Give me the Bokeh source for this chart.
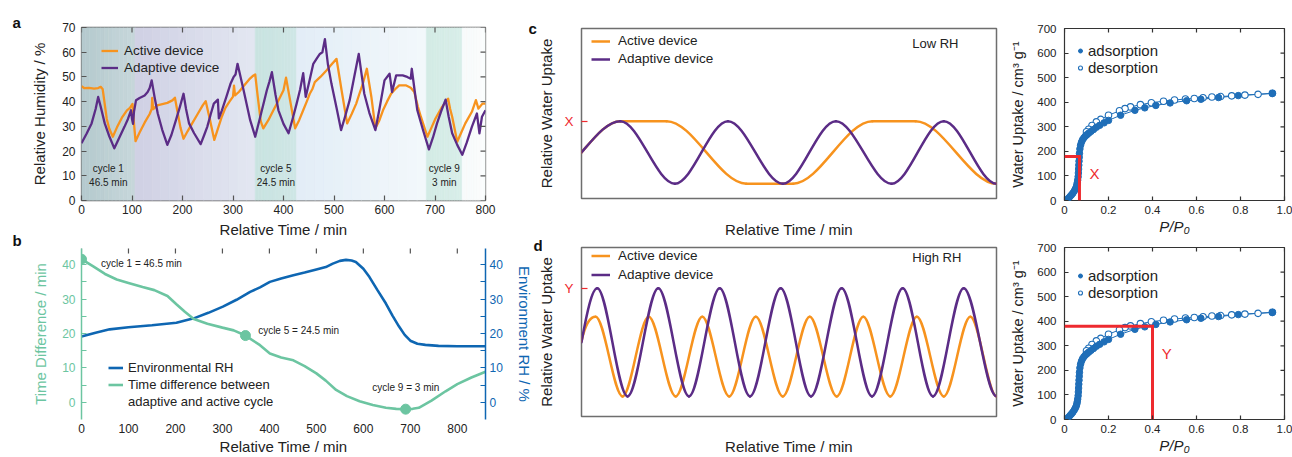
import math
from bokeh.plotting import figure
from bokeh.models import Range1d, LinearAxis, FixedTicker, Legend, LegendItem
from bokeh.layouts import row, column
from bokeh.embed import file_html
from bokeh.resources import INLINE
from bokeh.core.properties import value

FONT = "Liberation Sans"
ORANGE = "#F7931E"
PURPLE = "#5B2C86"
GREEN = "#6CC5A1"
BLUE = "#0E66B2"
ISO_BLUE = "#1F6EB8"
RED = "#EE2A2F"

# ---------------- panel a : measured RH ----------------
a_time_active = [0,5,15,25,33,38,42,46,50,55,62,70,80,90,96,101,104,107,115,125,135,139,140,142,150,160,170,180,185,190,196,202,210,220,230,240,246,254,263,270,278,285,293,300,302,304,312,322,332,340,344,349,355,360,370,380,390,400,405,413,423,431,439,446,452,457,462,473,485,495,505,510,515,526,535,544,550,557,565,570,574,582,590,597,605,613,621,629,642,652,659,666,672,685,693,701,714,726,730,734,744,752,760,773,781,786,794,800]
a_rh_active = [46.2,45.5,45.6,45.3,45.5,46.0,45.0,39.0,33.0,29.0,25.8,29.5,33.5,36.5,37.5,39.1,31.0,24.0,27.5,31.5,35.0,37.0,41.5,37.0,38.5,39.0,39.5,40.5,41.6,36.0,29.5,25.0,28.0,31.5,35.0,38.5,40.2,33.0,24.5,29.0,34.0,37.5,40.0,42.0,46.5,42.5,44.0,46.5,49.0,50.5,51.0,42.0,32.0,29.2,32.5,36.5,40.5,44.6,49.7,40.6,29.2,32.5,36.5,40.0,43.2,45.0,47.9,50.0,52.6,55.0,57.3,51.0,44.6,31.2,35.0,39.2,43.0,47.2,53.3,47.0,41.9,29.2,32.5,36.5,40.0,43.2,45.0,46.6,46.6,45.6,43.9,38.0,33.9,25.8,29.5,33.2,37.9,41.2,37.0,33.9,23.8,27.5,31.2,35.9,40.6,37.2,39.2,39.2]
a_time_adaptive = [0,10,20,28,33,38,46,55,65,75,85,92,98,100,102,104,108,115,125,131,135,139,145,151,160,170,178,187,195,202,207,213,223,236,243,249,256,262,270,272,278,287,295,301,305,309,315,321,334,344,354,362,367,372,377,384,390,400,410,418,426,433,439,444,452,459,466,472,477,482,488,495,505,514,522,531,540,549,555,560,570,582,590,600,610,615,623,636,645,652,654,660,665,677,688,696,704,712,721,727,734,744,754,763,773,783,788,793,800]
a_rh_adaptive = [23.2,27.0,31.2,37.0,41.9,38.0,31.2,26.0,21.1,25.5,29.8,33.0,36.5,33.0,31.0,36.0,40.6,41.5,42.5,43.9,45.5,48.6,41.5,35.2,28.5,22.5,26.5,32.5,38.0,43.2,37.0,31.2,27.2,22.8,26.5,29.8,35.0,39.2,40.8,33.2,36.5,42.0,47.2,49.9,51.0,55.3,50.0,44.6,32.5,25.8,33.9,40.5,44.6,48.0,51.9,43.0,36.5,31.0,27.2,33.0,39.2,45.0,51.5,41.9,49.0,55.3,57.5,59.3,60.0,65.3,55.0,47.2,37.5,28.5,34.0,40.6,50.0,59.3,50.5,43.2,35.5,28.5,37.0,48.6,51.3,43.9,50.6,50.6,50.0,49.3,53.3,44.0,36.5,28.0,20.7,25.5,31.2,36.0,40.8,34.0,27.2,22.5,18.5,23.5,29.8,35.2,27.2,33.9,36.5]
a_band_start = [0, 106, 344, 426, 683, 754]
a_band_end = [106, 344, 426, 683, 754, 800]
a_cycle_bands = [0, 2, 4]
a_cycle_labels = ["cycle 1\n46.5 min", "cycle 5\n24.5 min", "cycle 9\n3 min"]
A_X_TICKS = [0, 100, 200, 300, 400, 500, 600, 700, 800]
A_Y_TICKS = [0, 10, 20, 30, 40, 50, 60, 70]

# ---------------- panel b ----------------
b_time_td = [0,25,50,75,100,130,155,183,202,220,239,268,300,324,349,380,401,425,451,475,500,520,542,565,592,620,648,670,690,705,718,745,775,800,830,860]
b_td = [41.6,39.5,37.3,35.7,34.7,33.5,32.6,30.9,28.5,26.3,24.2,22.8,21.7,20.9,19.4,16.6,14.2,13.0,12.2,10.5,8.4,6.3,3.6,1.8,0.3,-0.8,-1.6,-1.9,-2.0,-1.9,-1.6,0.5,3.2,5.3,7.2,8.9]
b_time_rh = [0,30,60,100,150,202,239,270,301,330,359,380,401,425,451,475,500,520,535,550,563,575,584,600,613,630,648,662,676,688,700,715,732,760,800,830,860]
b_rh = [19.1,20.2,21.2,21.8,22.4,23.1,24.4,26.0,27.8,29.8,32.1,33.4,35.0,36.0,36.9,37.7,38.6,39.3,40.3,41.1,41.4,41.2,40.8,38.8,36.4,32.6,28.7,25.2,22.0,19.6,17.9,17.0,16.7,16.4,16.3,16.3,16.3]
b_marker_t = [0, 349, 690]
b_marker_td = [41.6, 19.4, -2.0]
b_notes = ["cycle 1 = 46.5 min", "cycle 5 = 24.5 min", "cycle 9 = 3 min"]
B_X_TICKS = [0, 100, 200, 300, 400, 500, 600, 700, 800]
B_Y_TICKS = [0, 10, 20, 30, 40]
B_Y_MINOR = [5, 15, 25, 35]

# ---------------- panels c, d (schematic key points: time, level, tangent) ----------------
c_active_t = [0, 9.35, 20.5, 39.7, 51.0, 70.1, 80.5, 100]
c_active_v = [27.1, 45.5, 45.5, 8.7, 8.7, 45.5, 45.5, 8.7]
c_active_slope = [2.8, 0, 0, 0, 0, 0, 0, 0]
c_adaptive_t = [0, 9.35, 22.5, 35.3, 48.5, 61.3, 74.7, 87.3, 100]
c_adaptive_v = [27.1, 45.5, 8.7, 45.5, 8.7, 45.5, 8.7, 45.5, 8.7]
c_adaptive_slope = [2.8, 0, 0, 0, 0, 0, 0, 0, 0]
d_active_t = [0, 3.4, 9.9, 16.2, 22.7, 29.1, 35.6, 42.0, 48.5, 55.0, 61.5, 67.9, 74.4, 80.8, 87.3, 93.7, 100]
d_active_v = [44.6, 59.0, 11.9, 59.0, 11.9, 59.0, 11.9, 59.0, 11.9, 59.0, 11.9, 59.0, 11.9, 59.0, 11.9, 59.0, 11.9]
d_active_slope = [10.6, 0, 0, 0, 0, 0, 0, 0, 0, 0, 0, 0, 0, 0, 0, 0, 0]
d_adaptive_t = [0, 3.8, 11.1, 18.5, 25.9, 33.3, 40.6, 48.0, 55.3, 62.7, 70.0, 77.4, 84.7, 92.1, 100]
d_adaptive_v = [43.9, 75.9, 11.9, 75.9, 11.9, 75.9, 11.9, 75.9, 11.9, 75.9, 11.9, 75.9, 11.9, 75.9, 11.9]
d_adaptive_slope = [13.7, 0, 0, 0, 0, 0, 0, 0, 0, 0, 0, 0, 0, 0, 0]

# ---------------- isotherm ----------------
iso_ads_p = [0.010,0.018,0.025,0.032,0.038,0.044,0.049,0.053,0.056,0.058,0.060,0.062,0.063,0.064,0.065,0.066,0.067,0.068,0.070,0.073,0.077,0.082,0.088,0.095,0.102,0.110,0.120,0.132,0.145,0.160,0.180,0.200,0.255,0.320,0.365,0.415,0.480,0.555,0.620,0.700,0.790,0.945]
iso_ads_q = [3,9,16,23,30,38,46,54,63,72,83,97,112,128,144,160,176,192,210,225,237,247,255,262,268,274,281,289,298,306,316,326,347,367,377,387,397,406,412,419,427,436]
iso_des_p = [0.945,0.880,0.820,0.760,0.710,0.670,0.630,0.590,0.550,0.500,0.450,0.395,0.345,0.300,0.275,0.250,0.200,0.165,0.145,0.125,0.110,0.100]
iso_des_q = [436,432,429,426,423,421,418,415,413,409,404,398,390,381,374,365,347,330,320,305,290,280]
iso_guides_p = [0.068, 0.40]
iso_guides_q = [179, 380]
iso_guide_labels = ["X", "Y"]
ISO_X_TICKS = [0, 0.2, 0.4, 0.6, 0.8, 1.0]
ISO_Y_TICKS = [0, 100, 200, 300, 400, 500, 600, 700]

PANEL_LETTERS = ["a", "b", "c", "d"]


def mix(c0, c1, f):
    a = [int(c0[i:i + 2], 16) for i in (1, 3, 5)]
    b = [int(c1[i:i + 2], 16) for i in (1, 3, 5)]
    return "#%02x%02x%02x" % tuple(int(round(x + (y - x) * f)) for x, y in zip(a, b))


def fig(w, h, xr, yr, l, r, t, b, transparent=False):
    p = figure(width=w, height=h, x_range=Range1d(*xr), y_range=Range1d(*yr),
               output_backend="svg", toolbar_location=None,
               min_border_left=l, min_border_right=r, min_border_top=t, min_border_bottom=b)
    p.grid.visible = False
    p.background_fill_color = "white"
    p.border_fill_color = None if transparent else "white"
    return p


def style(ax, ticks, color="#222222", tick_color="#555555", tick_len=5,
          label_size="12px", standoff=5, line_color=None, minor=None):
    ax.ticker = FixedTicker(ticks=list(ticks), minor_ticks=list(minor or []))
    ax.axis_line_color = line_color
    ax.axis_line_width = 1.5
    ax.major_tick_in = tick_len
    ax.major_tick_out = 0
    ax.minor_tick_in = tick_len if minor else 0
    ax.minor_tick_out = 0
    ax.major_tick_line_color = tick_color
    ax.minor_tick_line_color = tick_color
    ax.major_tick_line_width = 1.2
    ax.minor_tick_line_width = 1.2
    ax.major_label_text_font = FONT
    ax.major_label_text_font_size = label_size
    ax.major_label_text_color = color
    ax.major_label_standoff = standoff
    ax.axis_label_text_font = FONT
    ax.axis_label_text_font_size = "15px"
    ax.axis_label_text_font_style = "normal"
    ax.axis_label_text_color = color


def mirror_ticks(p, xticks=None, yticks=None, color="#555555", length=5, width=1.2):
    # inward tick marks on the top / right frame edges (outer half is clipped by the frame)
    if xticks:
        p.scatter(x=list(xticks), y=[p.y_range.end] * len(xticks), marker="dash", angle=math.pi / 2,
                  size=2 * length, line_color=color, line_width=width)
    if yticks:
        p.scatter(x=[p.x_range.end] * len(yticks), y=list(yticks), marker="dash",
                  size=2 * length, line_color=color, line_width=width)


def legend(p, items, loc, gw, gh, standoff, size):
    lg = Legend(items=items, location=loc, glyph_width=gw, glyph_height=gh, label_height=gh,
                label_standoff=standoff, padding=0, spacing=0, margin=0,
                label_text_font=FONT, label_text_font_size=size, label_text_color="#222222",
                background_fill_alpha=0, border_line_color=None)
    p.add_layout(lg)


def letter_fig(x0, w, letters, xs, ys, margin=None):
    p = figure(width=w, height=457, x_range=Range1d(x0, x0 + w), y_range=Range1d(457, 0),
               output_backend="svg", toolbar_location=None, x_axis_location=None,
               y_axis_location=None, min_border=0)
    p.grid.visible = False
    p.outline_line_color = None
    p.background_fill_color = None
    p.border_fill_color = None
    if margin is not None:
        p.margin = margin
    p.text(x=xs, y=ys, text=letters, text_font=value(FONT), text_font_size="15px",
           text_font_style="bold", text_baseline="alphabetic", text_align="left", text_color="#111111")
    return p


def bez(t, v, m):
    x0, x1, y0, y1 = t[:-1], t[1:], v[:-1], v[1:]
    dx = [b - a for a, b in zip(x0, x1)]
    return dict(x0=x0, y0=y0, x1=x1, y1=y1,
                cx0=[a + d / 3 for a, d in zip(x0, dx)],
                cy0=[y + s * d / 3 for y, s, d in zip(y0, m[:-1], dx)],
                cx1=[b - d / 3 for b, d in zip(x1, dx)],
                cy1=[y - s * d / 3 for y, s, d in zip(y1, m[1:], dx)])


# ================= Figure a =================
pa = fig(507, 240, (0, 800), (0, 70), 52, 48, 27, 39)
pa.outline_line_color = "#666666"
pa.outline_line_width = 1.3
band_left = ["#b4c9cd", "#cfd0e3", "#c9e3e1", "#e2edf7", "#d3ebe5", "#f7fafb"]
band_right = ["#c7d7db", "#e3e7f2", "#cfe6e5", "#f3f8fb", "#d8eee9", "#fbfdfd"]
for i in range(len(a_band_start)):
    n = 14
    s, e = a_band_start[i], a_band_end[i]
    edges = [s + (e - s) * k / n for k in range(n + 1)]
    cols = [mix(band_left[i], band_right[i], (k + 0.5) / n) for k in range(n)]
    pa.quad(left=edges[:-1], right=edges[1:], bottom=pa.y_range.start, top=pa.y_range.end,
            fill_color=cols, line_color=cols, line_width=0.6)
ra = pa.line(a_time_active, a_rh_active, line_color=ORANGE, line_width=2.3, line_join="round")
rp = pa.line(a_time_adaptive, a_rh_adaptive, line_color=PURPLE, line_width=2.3, line_join="round")
centers = [(a_band_start[i] + a_band_end[i]) / 2 for i in a_cycle_bands]
pa.text(x=centers, y=[10] * len(centers), text=a_cycle_labels, text_font=value(FONT),
        text_font_size="10px", text_align="center", text_baseline="middle",
        text_line_height=1.25, text_color="#222222")
style(pa.below[0], A_X_TICKS, standoff=4)
pa.below[0].axis_label = "Relative Time / min"
pa.below[0].axis_label_standoff = 4
style(pa.left[0], A_Y_TICKS, standoff=6)
pa.left[0].axis_label = "Relative Humidity / %"
pa.left[0].axis_label_standoff = 11
mirror_ticks(pa, A_X_TICKS, A_Y_TICKS)
legend(pa, [LegendItem(label="Active device", renderers=[ra]),
            LegendItem(label="Adaptive device", renderers=[rp])], (20, 123.8), 17, 17, 6, "13.5px")

# ================= Figure b =================
pb = fig(507, 217, (0, 860), (-5, 44.7), 52, 48, 8, 37)
pb.extra_y_ranges = {"rh": Range1d(-5, 44.7)}
pb.outline_line_color = None
style(pb.left[0], B_Y_TICKS, color=GREEN, tick_color=GREEN, line_color=GREEN, minor=B_Y_MINOR, standoff=6)
pb.left[0].axis_label = "Time Difference / min"
pb.left[0].axis_label_standoff = 10
axr = LinearAxis(y_range_name="rh")
style(axr, B_Y_TICKS, color=BLUE, tick_color=BLUE, line_color=BLUE, minor=B_Y_MINOR, standoff=4)
axr.axis_label = "Environment RH / %"
axr.axis_label_standoff = 10
pb.add_layout(axr, "right")
style(pb.below[0], B_X_TICKS, tick_len=0, standoff=4)
pb.below[0].axis_label = "Relative Time / min"
pb.below[0].axis_label_standoff = 2
mirror_ticks(pb, B_X_TICKS, None)
rb = pb.line(b_time_rh, b_rh, y_range_name="rh", line_color=BLUE, line_width=2.6)
rg = pb.line(b_time_td, b_td, line_color=GREEN, line_width=2.6)
pb.scatter(b_marker_t, b_marker_td, size=10, color=GREEN)
rinv = pb.line(b_time_td[:1], b_td[:1], line_alpha=0)
pb.text(x=[41.6, 376, 619], y=[40.4, 21.0, 4.3], text=b_notes, text_font=value(FONT),
        text_font_size="10px", text_align="left", text_baseline="middle", text_color="#222222")
legend(pb, [LegendItem(label="Environmental RH", renderers=[rb]),
            LegendItem(label="Time difference between", renderers=[rg]),
            LegendItem(label="adaptive and active cycle", renderers=[rinv])], (27, 8.7), 15, 17, 5, "13px")

# ================= Figures c, d =================
def schematic(h, top, bottom, right, act, ada, level, level_label, note, note_xy, leg_loc, leg_h, xl_standoff):
    p = fig(476, h, (0, 100), (0, 100), 53, right, top, bottom, transparent=True)
    p.outline_line_color = "#6E6E6E"
    p.outline_line_width = 1.5
    p.bezier(**bez(*act), line_color=ORANGE, line_width=2.5, line_cap="round")
    p.bezier(**bez(*ada), line_color=PURPLE, line_width=2.5, line_cap="round")
    lo = p.line(act[0][:1], act[1][:1], line_color=ORANGE, line_width=2.5)
    lp = p.line(ada[0][:1], ada[1][:1], line_color=PURPLE, line_width=2.5)
    style(p.left[0], [level], color=RED, tick_color=RED, tick_len=6, label_size="13.5px", standoff=8)
    p.left[0].major_label_overrides = {level: level_label}
    p.left[0].axis_label = "Relative Water Uptake"
    p.left[0].axis_label_text_color = "#222222"
    p.left[0].axis_label_standoff = 6
    style(p.below[0], [], standoff=0)
    p.below[0].axis_label = "Relative Time / min"
    p.below[0].axis_label_standoff = xl_standoff
    p.text(x=[note_xy[0]], y=[note_xy[1]], text=[note], text_font=value(FONT), text_font_size="13px",
           text_align="left", text_baseline="middle", text_color="#222222")
    legend(p, [LegendItem(label="Active device", renderers=[lo]),
               LegendItem(label="Adaptive device", renderers=[lp])], leg_loc, 19, leg_h, 8, "13.5px")
    return p

pc = schematic(240, 28, 40, 7, (c_active_t, c_active_v, c_active_slope),
               (c_adaptive_t, c_adaptive_v, c_adaptive_slope), max(c_active_v), "X",
               "Low RH", (79.7, 90.9), (10, 130.5), 18, 22)
pd = schematic(217, 7, 38, 8, (d_active_t, d_active_v, d_active_slope),
               (d_adaptive_t, d_adaptive_v, d_adaptive_slope), max(d_adaptive_v), "Y",
               "High RH", (79.7, 94.0), (10, 131.8), 19, 21)

# ================= Isotherm figures =================
def iso(h, top, bottom, k, leg_loc, note_xy):
    p = fig(288, h, (0, 1), (0, 700), 60, 8, top, bottom)
    p.outline_line_color = "#333333"
    p.outline_line_width = 1.2
    p.line(iso_ads_p, iso_ads_q, line_color=ISO_BLUE, line_width=1)
    p.line(iso_des_p, iso_des_q, line_color=ISO_BLUE, line_width=1)
    rd = p.scatter(iso_des_p, iso_des_q, size=6.5, fill_color="white", line_color=ISO_BLUE, line_width=1.1)
    rf = p.scatter(iso_ads_p, iso_ads_q, size=6.5, fill_color=ISO_BLUE, line_color=ISO_BLUE)
    gx, gq = iso_guides_p[k], iso_guides_q[k]
    p.line([p.x_range.start, gx, gx], [gq, gq, p.y_range.start], line_color=RED, line_width=3,
           line_join="miter")
    p.text(x=[note_xy[0]], y=[note_xy[1]], text=[iso_guide_labels[k]], text_font=value(FONT),
           text_font_size="15px", text_color=RED, text_align="center", text_baseline="middle")
    style(p.left[0], ISO_Y_TICKS, tick_color="#333333", tick_len=4, label_size="11.5px", standoff=8)
    p.left[0].axis_label = "Water Uptake / cm\u00b3 g\u207b\u00b9"
    p.left[0].axis_label_text_font_size = "14.5px"
    p.left[0].axis_label_standoff = 8
    style(p.below[0], ISO_X_TICKS, tick_color="#333333", tick_len=4, label_size="11.5px", standoff=5)
    p.below[0].major_label_overrides = {0: "0", 1: "1.0"}
    p.below[0].axis_label = "P/P\u2080"
    p.below[0].axis_label_text_font_style = "italic"
    p.below[0].axis_label_standoff = 1
    mirror_ticks(p, ISO_X_TICKS, ISO_Y_TICKS, color="#333333", length=4)
    legend(p, [LegendItem(label="adsorption", renderers=[rf]),
               LegendItem(label="desorption", renderers=[rd])], leg_loc, 10, 17, 3, "15px")
    return p

pi1 = iso(240, 28, 40, 0, (11, 124), (0.136, 108))
pi2 = iso(217, 7, 38, 1, (11, 118.5), (0.465, 268))

# panel letters live in narrow transparent strips beside the panels
f_ab = letter_fig(0, 28, PANEL_LETTERS[:2], [12, 12], [22, 240])
f_cd = letter_fig(528, 14, PANEL_LETTERS[2:], [528, 533], [28, 245], margin=(0, 0, 0, -7))
col_cd = column(pc, pd, spacing=0, margin=(0, 0, 0, -14))

layout = row(f_ab, column(pa, pb, spacing=0), f_cd, col_cd,
             column(pi1, pi2, spacing=0), spacing=0)
open("out.html", "w").write(file_html(layout, INLINE, title="chart"))
